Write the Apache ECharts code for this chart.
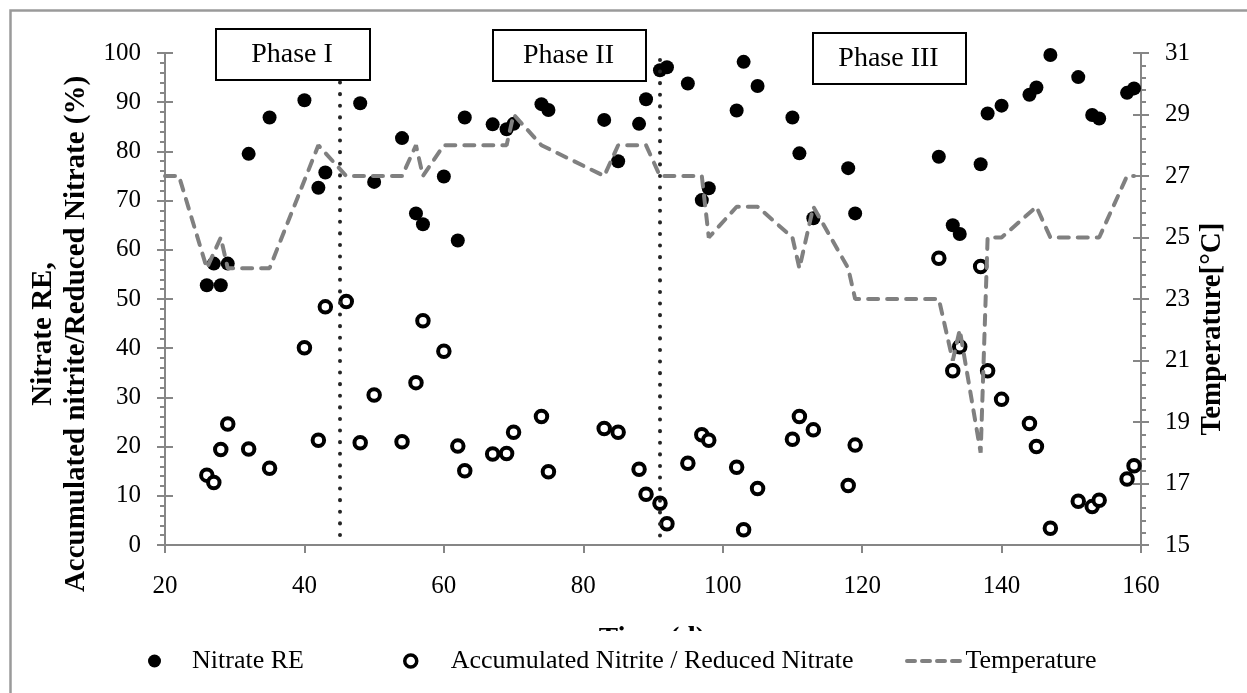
<!DOCTYPE html>
<html>
<head>
<meta charset="utf-8">
<title>Nitrate RE, nitrite accumulation and temperature</title>
<script src="https://cdn.jsdelivr.net/npm/echarts@6/dist/echarts.min.js"></script>
<style>
  html, body { margin: 0; padding: 0; background: #fff; }
  #main { width: 1247px; height: 693px; }
</style>
</head>
<body>
<div id="main"></div>
<script>
// values (day, %)
const nitrateDays = [26, 27, 28, 29, 32, 35, 40, 42, 43, 48, 50, 54, 56, 57, 60, 62, 63, 67, 69, 70, 74, 75, 83, 85, 88, 89, 91, 92, 95, 97, 98, 102, 103, 105, 110, 111, 113, 118, 119, 131, 133, 134, 137, 138, 140, 144, 145, 147, 151, 153, 154, 158, 159]
const nitrateRE = [52.8, 57.2, 52.8, 57.2, 79.5, 86.9, 90.4, 72.6, 75.7, 89.8, 73.8, 82.7, 67.4, 65.2, 74.9, 61.9, 86.9, 85.5, 84.5, 85.6, 89.6, 88.4, 86.4, 78.0, 85.6, 90.6, 96.5, 97.1, 93.8, 70.1, 72.5, 88.3, 98.2, 93.3, 86.9, 79.6, 66.4, 76.6, 67.4, 78.9, 65.0, 63.2, 77.4, 87.7, 89.3, 91.5, 93.0, 99.6, 95.1, 87.4, 86.7, 91.9, 92.8]

const nitriteDays = [26, 27, 28, 29, 32, 35, 40, 42, 43, 46, 48, 50, 54, 56, 57, 60, 62, 63, 67, 69, 70, 74, 75, 83, 85, 88, 89, 91, 92, 95, 97, 98, 102, 103, 105, 110, 111, 113, 118, 119, 131, 133, 134, 137, 138, 140, 144, 145, 147, 151, 153, 154, 158, 159]
const nitriteRatio = [14.2, 12.7, 19.4, 24.6, 19.5, 15.6, 40.1, 21.3, 48.4, 49.5, 20.8, 30.5, 21.0, 33.0, 45.6, 39.4, 20.1, 15.1, 18.5, 18.6, 22.9, 26.1, 14.9, 23.7, 22.9, 15.4, 10.3, 8.5, 4.3, 16.6, 22.4, 21.3, 15.8, 3.1, 11.5, 21.5, 26.1, 23.4, 12.1, 20.3, 58.3, 35.4, 40.3, 56.6, 35.4, 29.6, 24.7, 20.0, 3.4, 8.9, 7.8, 9.1, 13.4, 16.1]

// temperature (°C), right axis
const tempDays = [20, 22, 26, 28, 29, 35, 42, 46, 54, 56, 57, 60, 69, 70, 74, 83, 85, 89, 91, 97, 98, 102, 105, 110, 111, 113, 118, 119, 131, 133, 134, 137, 138, 140, 145, 147, 154, 158, 159]
const temperature = [27, 27, 24, 25, 24, 24, 28, 27, 27, 28, 27, 28, 28, 29, 28, 27, 28, 28, 27, 27, 25, 26, 26, 25, 24, 26, 24, 23, 23, 21, 22, 18, 25, 25, 26, 25, 25, 27, 27]

// phase separators (day) and where the dotted line starts (%)
const phaseLineDays = [45, 91]
const phaseLineTops = [94, 98.6]
const phaseNames = ['Phase I', 'Phase II', 'Phase III']

const FONT = '"Liberation Serif", "Times New Roman", serif'
const AXIS_GREY = '#868686'
// dashed line icon for the temperature legend entry
const DASH_ICON = 'path://M2,0H10A2,2 0 0 1 10,4H2A2,2 0 0 1 2,0Z M17,0H25A2,2 0 0 1 25,4H17A2,2 0 0 1 17,0Z M32,0H40A2,2 0 0 1 40,4H32A2,2 0 0 1 32,0Z M47,0H55A2,2 0 0 1 55,4H47A2,2 0 0 1 47,0Z'

const pairs = (xs, ys) => xs.map((x, i) => [x, ys[i]])

const chart = echarts.init(document.getElementById('main'))

// phase label boxes
const phaseBoxes = [
  {x: 215, y: 28, w: 154, h: 51},
  {x: 492, y: 29, w: 153, h: 51},
  {x: 812, y: 32, w: 153, h: 51}
]

const graphics = [
  // outer frame of the figure
  {
    type: 'rect', left: 8, top: 8, silent: true,
    shape: {width: 1300, height: 700},
    style: {fill: 'none', stroke: '#9a9a9a', lineWidth: 2.5}
  },
  // y titles
  {
    type: 'text', x: 60, y: 334, rotation: Math.PI / 2, silent: true,
    style: {
      text: 'Nitrate RE,\nAccumulated nitrite/Reduced Nitrate (%)',
      font: 'bold 29px ' + FONT, lineHeight: 33,
      textAlign: 'center', textVerticalAlign: 'middle', fill: '#000'
    }
  },
  {
    type: 'text', x: 1213, y: 329, rotation: Math.PI / 2, silent: true,
    style: {
      text: 'Temperature[°C]', font: 'bold 29px ' + FONT,
      textAlign: 'center', textVerticalAlign: 'middle', fill: '#000'
    }
  },
  // x title, mostly hidden behind the legend box
  {
    type: 'text', x: 652, y: 625, silent: true, z: 1,
    style: {
      text: 'Time (d)', font: 'bold 29px ' + FONT,
      textAlign: 'center', textVerticalAlign: 'top', fill: '#000'
    }
  },
  {
    type: 'rect', left: 12, top: 631, silent: true, z: 2,
    shape: {width: 1230, height: 60},
    style: {fill: '#fff'}
  }
]

phaseBoxes.forEach((b, i) => {
  graphics.push({
    type: 'rect', left: b.x, top: b.y, silent: true, z: 10,
    shape: {width: b.w, height: b.h},
    style: {fill: '#fff', stroke: '#000', lineWidth: 2}
  })
  graphics.push({
    type: 'text', x: b.x + b.w / 2, y: b.y + b.h / 2 + 1, silent: true, z: 11,
    style: {
      text: phaseNames[i], font: '28px ' + FONT,
      textAlign: 'center', textVerticalAlign: 'middle', fill: '#000'
    }
  })
})

const axisLine = {lineStyle: {color: AXIS_GREY, width: 2}}
const tickLine = {color: AXIS_GREY, width: 2}
const labelStyle = {color: '#000', fontSize: 25, fontFamily: FONT}
const legendText = {color: '#000', fontSize: 26, fontFamily: FONT}

const option = {
  animation: false,
  backgroundColor: '#fff',
  textStyle: {fontFamily: FONT},
  grid: {left: 165, right: 106, top: 53, bottom: 148},
  graphic: graphics,
  legend: [
    {
      data: [{name: 'Nitrate RE', icon: 'circle'}],
      left: 143, top: 643, itemWidth: 13, itemHeight: 15,
      symbolKeepAspect: false,
      textStyle: Object.assign({padding: [0, 0, 0, 26]}, legendText)
    },
    {
      data: [{name: 'Accumulated Nitrite / Reduced Nitrate', icon: 'circle'}],
      left: 398, top: 643, itemWidth: 12, itemHeight: 14,
      symbolKeepAspect: false,
      itemStyle: {borderWidth: 3.5, borderColor: '#000', color: '#fff'},
      textStyle: Object.assign({padding: [0, 0, 0, 29]}, legendText)
    },
    {
      data: [{name: 'Temperature', icon: DASH_ICON}],
      left: 900, top: 643, itemWidth: 58, itemHeight: 4,
      textStyle: Object.assign({padding: [0, 0, 0, -2]}, legendText)
    }
  ],
  xAxis: {
    type: 'value', min: 20, max: 160, interval: 20,
    axisLine: {onZero: false, lineStyle: {color: AXIS_GREY, width: 2}},
    axisTick: {length: 8, lineStyle: tickLine},
    axisLabel: Object.assign({margin: 29}, labelStyle),
    splitLine: {show: false}
  },
  yAxis: [
    {
      type: 'value', position: 'left', min: 0, max: 100, interval: 10,
      axisLine: Object.assign({show: true}, axisLine),
      axisTick: {length: 8, lineStyle: tickLine},
      minorTick: {show: true, splitNumber: 5, length: 5, lineStyle: tickLine},
      axisLabel: Object.assign({margin: 24}, labelStyle),
      splitLine: {show: false}
    },
    {
      type: 'value', position: 'right', min: 15, max: 31, interval: 2,
      axisLine: Object.assign({show: true}, axisLine),
      axisTick: {length: 8, lineStyle: tickLine},
      minorTick: {show: true, splitNumber: 5, length: 5, lineStyle: tickLine},
      axisLabel: Object.assign({margin: 24}, labelStyle),
      splitLine: {show: false}
    },
    // inner halves of the crossing major ticks
    {
      type: 'value', position: 'left', min: 0, max: 100, interval: 10,
      axisLine: {show: false},
      axisTick: {inside: true, length: 8, lineStyle: tickLine},
      axisLabel: {show: false},
      splitLine: {show: false}
    },
    {
      type: 'value', position: 'right', min: 15, max: 31, interval: 2,
      axisLine: {show: false},
      axisTick: {inside: true, length: 8, lineStyle: tickLine},
      axisLabel: {show: false},
      splitLine: {show: false}
    }
  ],
  series: [
    {
      name: 'Nitrate RE',
      type: 'scatter',
      yAxisIndex: 0,
      symbol: 'circle',
      symbolSize: 14,
      itemStyle: {color: '#000', opacity: 1},
      data: pairs(nitrateDays, nitrateRE),
      markLine: {
        silent: true,
        symbol: ['none', 'none'],
        label: {show: false},
        lineStyle: {color: '#262626', width: 4, type: [0.1, 11.5], cap: 'round'},
        data: phaseLineDays.map((d, i) => [{coord: [d, phaseLineTops[i]]}, {coord: [d, 0]}])
      }
    },
    {
      name: 'Accumulated Nitrite / Reduced Nitrate',
      type: 'scatter',
      yAxisIndex: 0,
      symbol: 'circle',
      symbolSize: 11.5,
      itemStyle: {color: '#fff', borderColor: '#000', borderWidth: 4, opacity: 1},
      data: pairs(nitriteDays, nitriteRatio)
    },
    {
      name: 'Temperature',
      type: 'line',
      yAxisIndex: 1,
      symbol: 'none',
      z: 5,
      lineStyle: {color: '#808080', width: 4, type: [10, 9], cap: 'round'},
      itemStyle: {color: '#808080'},
      data: pairs(tempDays, temperature)
    }
  ]
}

chart.setOption(option)
</script>
</body>
</html>
